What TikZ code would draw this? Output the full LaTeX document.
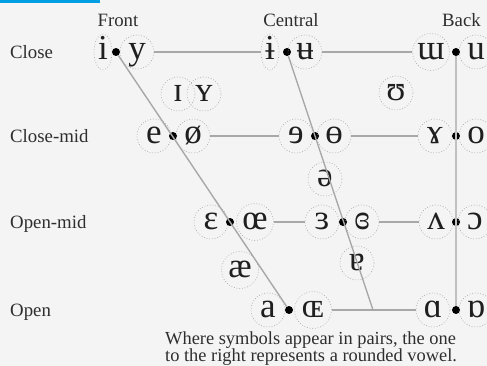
\documentclass[tikz,border=0pt]{standalone}
\usepackage{fontspec}
\setmainfont{Liberation Serif}
\usetikzlibrary{shapes.geometric}
\definecolor{bg}{HTML}{F4F4F4}
\definecolor{bar}{HTML}{009FE3}
\definecolor{lbl}{HTML}{2E2E2E}
\definecolor{ln}{HTML}{A8A8A8}
\definecolor{lnv}{HTML}{C0C0C0}
\definecolor{ring}{HTML}{A9A9A9}
\begin{document}
\begin{tikzpicture}[x=1pt,y=-1pt,
  sym/.style={circle,draw=ring,dotted,line width=0.7pt,minimum size=34pt,inner sep=0pt,
    font=\fontsize{35}{35}\selectfont,text=black!88,text height=15pt,text depth=0pt},
  narrow/.style={sym,ellipse,minimum width=18pt,minimum height=36pt},
  wide/.style={sym,minimum size=37pt},
  dotn/.style={circle,fill=black,inner sep=0pt,minimum size=8pt},
  lab/.style={font=\fontsize{18.8}{20}\selectfont,text=lbl,inner sep=0pt},
  notes/.style={font=\fontsize{18.4}{18}\selectfont,text=lbl,inner sep=0pt},
  conn/.style={draw=ln,line width=1.4pt},
  connv/.style={draw=lnv,line width=2.2pt}]
\fill[bg] (0,0) rectangle (487,366);
\useasboundingbox (0,0) rectangle (487,366);
\fill[bar] (0,0) rectangle (100,3);
% headers
\node[lab,anchor=base] (hfront) at (118,27) {Front};
\node[lab,anchor=base] (hcentral) at (291,27) {Central};
\node[lab,anchor=base east] (hback) at (481,27) {Back};
% row labels
\node[lab,anchor=base west] (rclose) at (10,58.5) {Close};
\node[lab,anchor=base west] (rclosemid) at (10,142.5) {Close-mid};
\node[lab,anchor=base west] (ropenmid) at (10,228.5) {Open-mid};
\node[lab,anchor=base west] (ropen) at (10,316) {Open};
% close
\node[narrow] (i) at (103,52) {i};
\node[dotn] (d1) at (116,52) {};
\node[sym] (y) at (137,52) {y};
\node[narrow] (ibar) at (270,52) {ɨ};
\node[dotn] (d2) at (287,52) {};
\node[sym] (ubar) at (305,52) {ʉ};
\node[wide] (turnm) at (431,52) {ɯ};
\node[dotn] (d3) at (456,52) {};
\node[sym] (u) at (476,52) {u};
% near-close
\node[sym] (smalli) at (178,94) {ɪ};
\node[sym] (smally) at (204,94) {ʏ};
\node[sym] (upsilon) at (396,93) {ʊ};
% close-mid
\node[sym] (e) at (154,136) {e};
\node[dotn] (d4) at (173,136) {};
\node[sym] (oslash) at (193,136) {ø};
\node[sym] (reve) at (296,136) {ɘ};
\node[dotn] (d5) at (315,136) {};
\node[sym] (obar) at (334,136) {ɵ};
\node[sym] (ramshorn) at (435,136) {ɤ};
\node[dotn] (d6) at (456,136) {};
\node[sym] (o) at (476,136) {o};
% mid
\node[sym] (schwa) at (325,179) {ə};
% open-mid
\node[sym] (epsilon) at (211,222) {ɛ};
\node[dotn] (d7) at (230,222) {};
\node[wide] (oe) at (255,222) {œ};
\node[sym] (reveps) at (322,222) {ɜ};
\node[dotn] (d8) at (343,222) {};
\node[sym] (closedeps) at (362,222) {ɞ};
\node[sym] (turnv) at (436,222) {ʌ};
\node[dotn] (d9) at (456,222) {};
\node[sym] (openo) at (475,222) {ɔ};
% near-open
\node[wide] (ae) at (240,270) {æ};
\node[sym] (turna) at (357,263) {ɐ};
% open
\node[sym] (a) at (268,310) {a};
\node[dotn] (d10) at (289,310) {};
\node[wide] (smalloe) at (313,310) {ɶ};
\node[sym] (alpha) at (433,310) {ɑ};
\node[dotn] (d11) at (456,310) {};
\node[sym] (turnalpha) at (476,310) {ɒ};
\coordinate (cbot) at (373,310);
% connectors
\draw[conn] (y) -- (ibar);
\draw[conn] (ubar) -- (turnm);
\draw[conn] (oslash) -- (reve);
\draw[conn] (obar) -- (ramshorn);
\draw[conn] (oe) -- (reveps);
\draw[conn] (closedeps) -- (turnv);
\draw[conn] (smalloe) -- (alpha);
\draw[conn] (d1) -- (d10);
\draw[conn] (d2) -- (cbot);
\draw[connv] (d3) -- (d11);
% footnote
\node[notes,anchor=base west] (note1) at (165,344) {Where symbols appear in pairs, the one};
\node[notes,anchor=base west] (note2) at (165,361.5) {to the right represents a rounded vowel.};
\end{tikzpicture}
\end{document}
